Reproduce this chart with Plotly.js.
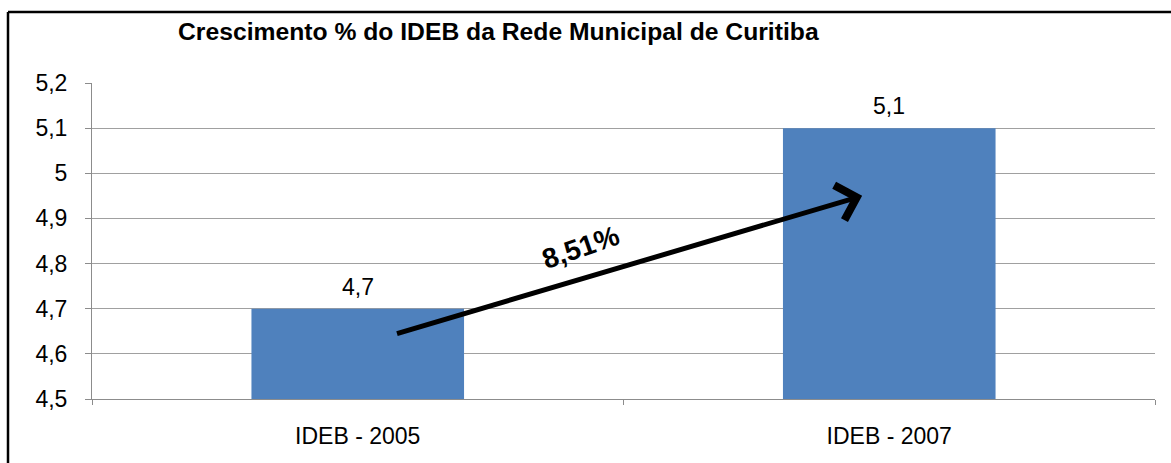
<!DOCTYPE html>
<html>
<head>
<meta charset="utf-8">
<script src="https://cdn.plot.ly/plotly-3.0.1.min.js"></script>
<style>
html,body{margin:0;padding:0;background:#fff;}
#chart{width:1171px;height:463px;}
</style>
</head>
<body>
<div id="chart"></div>
<script>
const categories = ["IDEB - 2005", "IDEB - 2007"];
const values = [4.7, 5.1];
const valueLabels = ["4,7", "5,1"];
const growthLabel = "8,51%";
const yTickVals = [4.5, 4.6, 4.7, 4.8, 4.9, 5.0, 5.1, 5.2];
const yTickText = ["4,5", "4,6", "4,7", "4,8", "4,9", "5", "5,1", "5,2"];
const chartTitle = "Crescimento % do IDEB da Rede Municipal de Curitiba";

const FONT = "Liberation Sans, Arial, sans-serif";

const trace = {
  type: "bar",
  x: categories,
  y: values,
  marker: {color: "#4f81bd"},
  hoverinfo: "skip"
};

const valueAnnotations = categories.map((c, i) => ({
  x: c, y: values[i], xref: "x", yref: "y",
  text: valueLabels[i], showarrow: false,
  yanchor: "bottom", yshift: 7,
  font: {family: FONT, size: 23, color: "#000"}
}));

const layout = {
  width: 1171,
  height: 463,
  margin: {l: 92, r: 16, t: 83, b: 64},
  paper_bgcolor: "#fff",
  plot_bgcolor: "#fff",
  separators: ", ",
  bargap: 0.6,
  showlegend: false,
  font: {family: FONT, color: "#000"},
  title: {
    text: "<b>" + chartTitle + "</b>",
    font: {family: FONT, size: 24.7, color: "#000"},
    x: 178 / 1171, xanchor: "left", xref: "container",
    y: 1 - 31 / 463, yanchor: "middle", yref: "container"
  },
  xaxis: {
    type: "category",
    range: [-0.5, 1.5],
    showgrid: false,
    showline: true,
    linecolor: "#8c8c8c",
    linewidth: 1,
    ticks: "outside",
    tickson: "boundaries",
    ticklen: 5,
    tickcolor: "#8c8c8c",
    tickfont: {family: FONT, size: 23, color: "#000"},
    ticklabelstandoff: 16,
    zeroline: false,
    fixedrange: true
  },
  yaxis: {
    range: [4.5, 5.2],
    tickvals: yTickVals,
    ticktext: yTickText,
    showgrid: true,
    gridcolor: "#a0a0a0",
    gridwidth: 1,
    showline: true,
    linecolor: "#8c8c8c",
    linewidth: 1,
    ticks: "outside",
    ticklen: 6,
    tickcolor: "#8c8c8c",
    tickfont: {family: FONT, size: 23, color: "#000"},
    ticklabelstandoff: 13,
    zeroline: false,
    fixedrange: true
  },
  shapes: [
    {type: "line", xref: "paper", yref: "paper",
     x0: -84/1063, x1: 1.2, y0: 1 + 71/316, y1: 1 + 71/316,
     line: {color: "#000", width: 2.5}},
    {type: "line", xref: "paper", yref: "paper",
     x0: -84/1063, x1: -84/1063, y0: 1 + 71/316, y1: -0.5,
     line: {color: "#000", width: 2.5}}
  ],
  annotations: valueAnnotations.concat([
    {x: 0.949, y: 4.95, ax: 0.071, ay: 4.644, xref: "x", yref: "y", axref: "x", ayref: "y",
     text: "", showarrow: true, arrowhead: 4, arrowsize: 1.4, arrowwidth: 5, arrowcolor: "#000"},
    {x: 0.419, y: 4.835, xref: "x", yref: "y", text: "<b>" + growthLabel + "</b>",
     showarrow: false, textangle: -19, font: {family: FONT, size: 28, color: "#000"}}
  ])
};

Plotly.newPlot("chart", [trace], layout, {displayModeBar: false, staticPlot: true});
</script>
</body>
</html>
